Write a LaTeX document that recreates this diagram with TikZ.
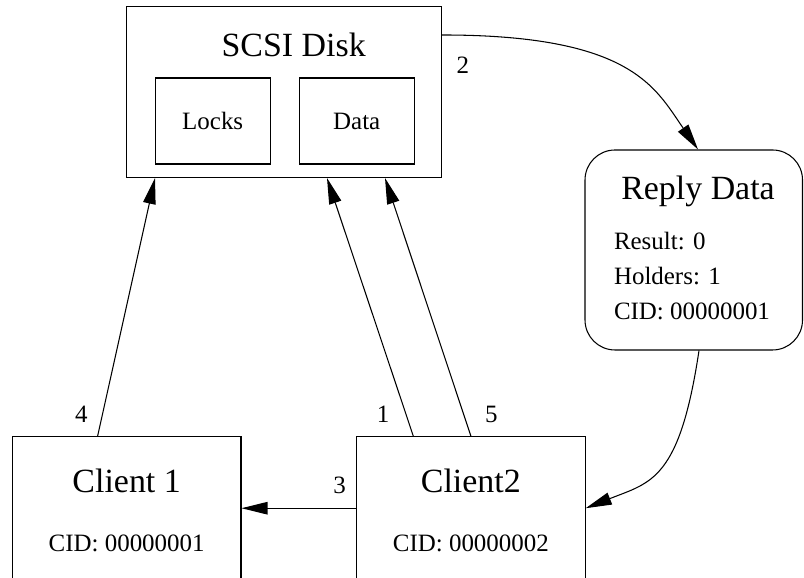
\documentclass[tikz,border=0pt]{standalone}
\usepackage{fontspec}
\setmainfont{Liberation Serif}
\usetikzlibrary{
arrows.meta,
positioning
}
\tikzset{>={Triangle[length=5.2mm,width=2.5mm]}}
\newcommand{\hdfont}{\fontsize{19.3}{23}\selectfont}

\begin{document}
\begin{tikzpicture}[line width=0.6pt, font=\fontsize{14.2}{17}\selectfont, lbl/.style={inner sep=0pt}]
		\clip (0,0) rectangle (16.08,11.56);
		
		\node[draw,minimum width=6.3cm,minimum height=3.416cm] (disk) at (5.684,9.718) {};
		\node[lbl,anchor=base,font=\hdfont] (disktitle) at ([xshift=0.19cm,yshift=-1.0cm]disk.north) {SCSI Disk};
		\node[draw,minimum width=2.3cm,minimum height=1.72cm,above right=0.27cm and 0.57cm of disk.south west] (locks) {Locks};
		\node[draw,minimum width=2.3cm,minimum height=1.72cm,right=0.56cm of locks] (data) {Data};
		
		\node[draw,rounded corners=0.6cm,minimum width=4.35cm,minimum height=4cm] (reply) at (13.875,6.56) {};
		\node[lbl,anchor=base,font=\hdfont] (replytitle) at ([xshift=0.085cm,yshift=-1.0cm]reply.north) {Reply Data};
		\node[lbl,anchor=base west] (result) at ([xshift=0.58cm,yshift=-2.0cm]reply.north west) {Result: 0};
		\node[lbl,anchor=base west] (holders) at ([xshift=0.58cm,yshift=-2.7cm]reply.north west) {Holders: 1};
		\node[lbl,anchor=base west] (replycid) at ([xshift=0.58cm,yshift=-3.4cm]reply.north west) {CID: 00000001};
		
		\node[draw,minimum width=4.573cm,minimum height=3.6cm,anchor=north] (client1) at (2.533,2.84) {};
		\node[draw,minimum width=4.573cm,minimum height=3.6cm,right=2.29cm of client1] (client2) {};
		\node[lbl,anchor=base,font=\hdfont] (c1title) at ([yshift=-1.14cm]client1.north) {Client 1};
		\node[lbl,anchor=base] (c1cid) at ([yshift=-2.31cm]client1.north) {CID: 00000001};
		\node[lbl,anchor=base,font=\hdfont] (c2title) at ([yshift=-1.14cm]client2.north) {Client2};
		\node[lbl,anchor=base] (c2cid) at ([yshift=-2.31cm]client2.north) {CID: 00000002};
		
		\draw[->] ([xshift=-1.152cm]client2.north) node[lbl,above left=0.25cm and 0.47cm] (l1) {1} -- ([xshift=0.856cm]disk.south);
		\draw[->] ([yshift=1.142cm]disk.east) node[lbl,below right=0.43cm and 0.275cm] (l2) {2} .. controls +(3.8,0) and +(-0.855,1.23) .. ([xshift=0.085cm]reply.north);
		\draw[->] ([xshift=0.105cm]reply.south) .. controls +(-0.39,-2.6) and +(1.302,0.518) .. ([yshift=0.366cm]client2.east);
		\draw[->] ([yshift=0.366cm]client2.west) node[lbl,above left=0.27cm and 0.195cm] (l3) {3} -- ([yshift=0.366cm]client1.east);
		\draw[->] ([xshift=-0.58cm]client1.north) node[lbl,above left=0.25cm and 0.19cm] (l4) {4} -- ([xshift=-2.584cm]disk.south);
		\draw[->] (client2.north) node[lbl,above right=0.25cm and 0.275cm] (l5) {5} -- ([xshift=2.016cm]disk.south);
	\end{tikzpicture}
\end{document}
